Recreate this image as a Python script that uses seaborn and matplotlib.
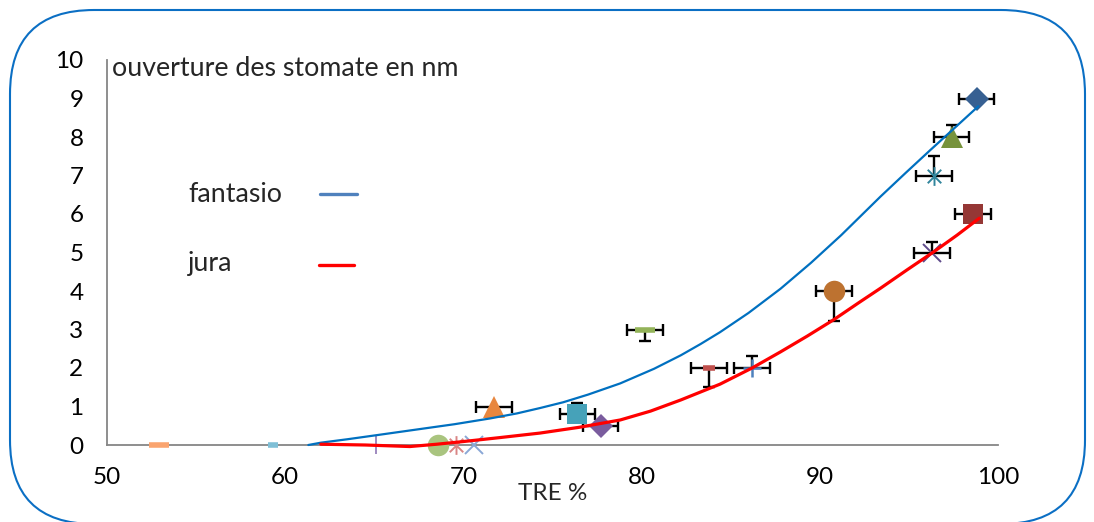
import matplotlib
matplotlib.use("Agg")
import numpy as np
import pandas as pd
import matplotlib.pyplot as plt
import seaborn as sns
from matplotlib.patches import FancyBboxPatch
from matplotlib.path import Path
from matplotlib.lines import Line2D
from matplotlib.transforms import IdentityTransform

# ---- measured points (TRE %, stomatal opening in nm) ----
tre = [52.9, 59.3, 65.1, 68.6, 69.6, 70.6, 71.7, 76.4, 77.7, 80.2,
       83.8, 86.2, 90.8, 96.3, 96.4, 97.4, 98.8, 98.6]
ouverture = [0.0, 0.0, 0.0, 0.0, 0.0, 0.0, 1.0, 0.8, 0.5, 3.0,
             2.0, 2.0, 4.0, 5.0, 7.0, 8.0, 9.0, 6.0]
tre_err = [0, 0, 0, 0, 0, 0, 1.0, 1.0, 1.0, 1.0,
           1.0, 1.0, 1.0, 1.0, 1.0, 1.0, 1.0, 1.0]
ouv_err_low = [0, 0, 0, 0, 0, 0, 0, 0, 0, 0.3,
               0.5, 0, 0.78, 0, 0, 0, 0, 0]
ouv_err_high = [0, 0, 0, 0, 0, 0, 0, 0.3, 0, 0,
                0, 0.3, 0, 0.26, 0.5, 0.3, 0, 0]

# ---- response curves per variety ----
fantasio_x = [61.3, 62.0, 63.5, 65.2, 67.5, 69.5, 71.5, 73.0, 74.3, 75.6, 77.0,
              78.8, 80.7, 82.2, 83.3, 84.4, 86.0, 87.8, 89.5, 91.2, 92.3, 93.4,
              94.8, 96.2, 97.6, 98.9]
fantasio_y = [0.0, 0.06, 0.15, 0.26, 0.41, 0.54, 0.69, 0.82, 0.96, 1.11, 1.31,
              1.60, 1.98, 2.33, 2.62, 2.93, 3.43, 4.06, 4.73, 5.45, 5.95, 6.45,
              7.06, 7.66, 8.25, 8.80]
jura_x = [62.0, 64.5, 67.0, 68.5, 70.0, 72.0, 74.3, 76.5, 78.8, 80.5, 82.2,
          84.4, 86.2, 87.8, 89.3, 90.8, 92.2, 93.4, 94.9, 96.4, 97.7, 98.95]
jura_y = [0.02, 0.0, -0.04, 0.02, 0.09, 0.19, 0.31, 0.46, 0.65, 0.88, 1.17,
          1.58, 2.0, 2.42, 2.83, 3.26, 3.70, 4.07, 4.55, 5.02, 5.45, 5.89]

x_ticks = [50, 60, 70, 80, 90, 100]
y_ticks = list(range(0, 11))
x_label = "TRE %"
y_label = "ouverture des stomate en nm"
series_names = ["fantasio", "jura"]

# ---- marker styling for each measurement ----
asterisk = Path([(0, -1), (0, 1), (-0.72, -0.72), (0.72, 0.72), (-0.72, 0.72), (0.72, -0.72)],
                [Path.MOVETO, Path.LINETO, Path.MOVETO, Path.LINETO, Path.MOVETO, Path.LINETO])
styles = [
    dict(marker="_", color="#FAA46F", ms=14.5, mew=4),
    dict(marker="_", color="#7FBFD6", ms=7.5, mew=4),
    dict(marker="|", color="#9F8AC0", ms=13, mew=1.4),
    dict(marker="o", color="#A9C47F", ms=15.5, mew=0),
    dict(marker=asterisk, color="#D98585", ms=13.5, mew=1.4),
    dict(marker="x", color="#8AA7D6", ms=12.5, mew=1.4),
    dict(marker="^", color="#E8873F", ms=15.5, mew=0),
    dict(marker="s", color="#46A2B9", ms=15, mew=0),
    dict(marker="D", color="#7A5C9E", ms=12, mew=0),
    dict(marker="_", color="#93B359", ms=14.5, mew=4),
    dict(marker="_", color="#C0504D", ms=8, mew=4),
    dict(marker="+", color="#4F81BD", ms=13.5, mew=1.8),
    dict(marker="o", color="#BD7230", ms=15.5, mew=0),
    dict(marker="x", color="#5F4B8B", ms=13.5, mew=1.4),
    dict(marker=asterisk, color="#31859C", ms=13.5, mew=1.4),
    dict(marker="^", color="#77933C", ms=15.5, mew=0),
    dict(marker="D", color="#376092", ms=12, mew=0),
    dict(marker="s", color="#953735", ms=15, mew=0),
]

W, H = 1094, 522
sns.set_theme(style="white")
plt.rcParams["font.family"] = ["Lato", "DejaVu Sans"]
FS_TICK = 17.5
FS_TEXT = 19.3

def fx(px):
    return px / W

def fy(py):
    return 1 - py / H

fig = plt.figure(figsize=(W / 100, H / 100), dpi=100)
fig.patch.set_facecolor("white")
ax = fig.add_axes([fx(107), fy(445), fx(998) - fx(107), fy(60) - fy(445)])

df = pd.DataFrame({"tre": tre, "ouv": ouverture, "xe": tre_err,
                   "lo": ouv_err_low, "hi": ouv_err_high})

# horizontal error bars
m = df["xe"] > 0
ax.errorbar(df.loc[m, "tre"], df.loc[m, "ouv"], xerr=df.loc[m, "xe"], fmt="none",
            ecolor="black", elinewidth=1.7, capsize=4.5, capthick=1.7, zorder=2)
# one-sided vertical error bars
cap_ms = 9
m = df["lo"] > 0
ax.vlines(df.loc[m, "tre"], df.loc[m, "ouv"] - df.loc[m, "lo"], df.loc[m, "ouv"],
          color="black", lw=1.7, zorder=2)
ax.plot(df.loc[m, "tre"], df.loc[m, "ouv"] - df.loc[m, "lo"], ls="", marker="_",
        ms=cap_ms, mew=1.7, color="black", zorder=2)
m = df["hi"] > 0
ax.vlines(df.loc[m, "tre"], df.loc[m, "ouv"], df.loc[m, "ouv"] + df.loc[m, "hi"],
          color="black", lw=1.7, zorder=2)
ax.plot(df.loc[m, "tre"], df.loc[m, "ouv"] + df.loc[m, "hi"], ls="", marker="_",
        ms=cap_ms, mew=1.7, color="black", zorder=2)

# measurement markers
for xv, yv, st in zip(tre, ouverture, styles):
    ax.plot([xv], [yv], ls="", marker=st["marker"], ms=st["ms"], mew=st["mew"],
            color=st["color"], mec=st["color"], mfc=st["color"], clip_on=False, zorder=3)

# variety curves
sns.lineplot(x=fantasio_x, y=fantasio_y, ax=ax, sort=False, estimator=None,
             color="#0070C0", lw=1.6, zorder=4)
sns.lineplot(x=jura_x, y=jura_y, ax=ax, sort=False, estimator=None,
             color="#FF0000", lw=2.3, zorder=4)
for ln in ax.lines:
    ln.set_clip_on(False)
    ln.set_solid_joinstyle("round")

ax.set_xlim(x_ticks[0], x_ticks[-1])
ax.set_ylim(y_ticks[0], y_ticks[-1])
ax.set_xticks(x_ticks)
ax.set_yticks(y_ticks)
ax.tick_params(axis="both", which="major", direction="out", length=5, width=1.1,
               color="#868686", labelsize=FS_TICK, labelcolor="black")
ax.tick_params(axis="y", pad=12)
ax.tick_params(axis="x", pad=11)
for side in ["top", "right"]:
    ax.spines[side].set_visible(False)
for side in ["left", "bottom"]:
    ax.spines[side].set_color("#868686")
    ax.spines[side].set_linewidth(1.3)
ax.set_facecolor("none")

# axis titles
fig.text(fx(112), fy(76), y_label, fontsize=FS_TEXT, ha="left", va="baseline")
fig.text(fx(518), fy(500), x_label, fontsize=FS_TICK, ha="left", va="baseline")

# series key
key_colors = ["#4F81BD", "#FF0000"]
key_rows = [(202, 194, 320, 357), (271, 265, 319, 354)]
for name, col, (base, ly, x0, x1) in zip(series_names, key_colors, key_rows):
    fig.text(fx(188), fy(base), name, fontsize=FS_TEXT, ha="left", va="baseline")
    fig.add_artist(Line2D([fx(x0), fx(x1)], [fy(ly), fy(ly)], color=col, lw=2.4,
                          transform=fig.transFigure))

# rounded chart frame
frame = FancyBboxPatch((10, -2), 1075, 514, boxstyle="round,pad=0,rounding_size=84",
                       transform=IdentityTransform(), facecolor="none",
                       edgecolor="#0B6FC4", lw=1.5, zorder=10)
fig.add_artist(frame)

fig.savefig("out.png", dpi=100)
